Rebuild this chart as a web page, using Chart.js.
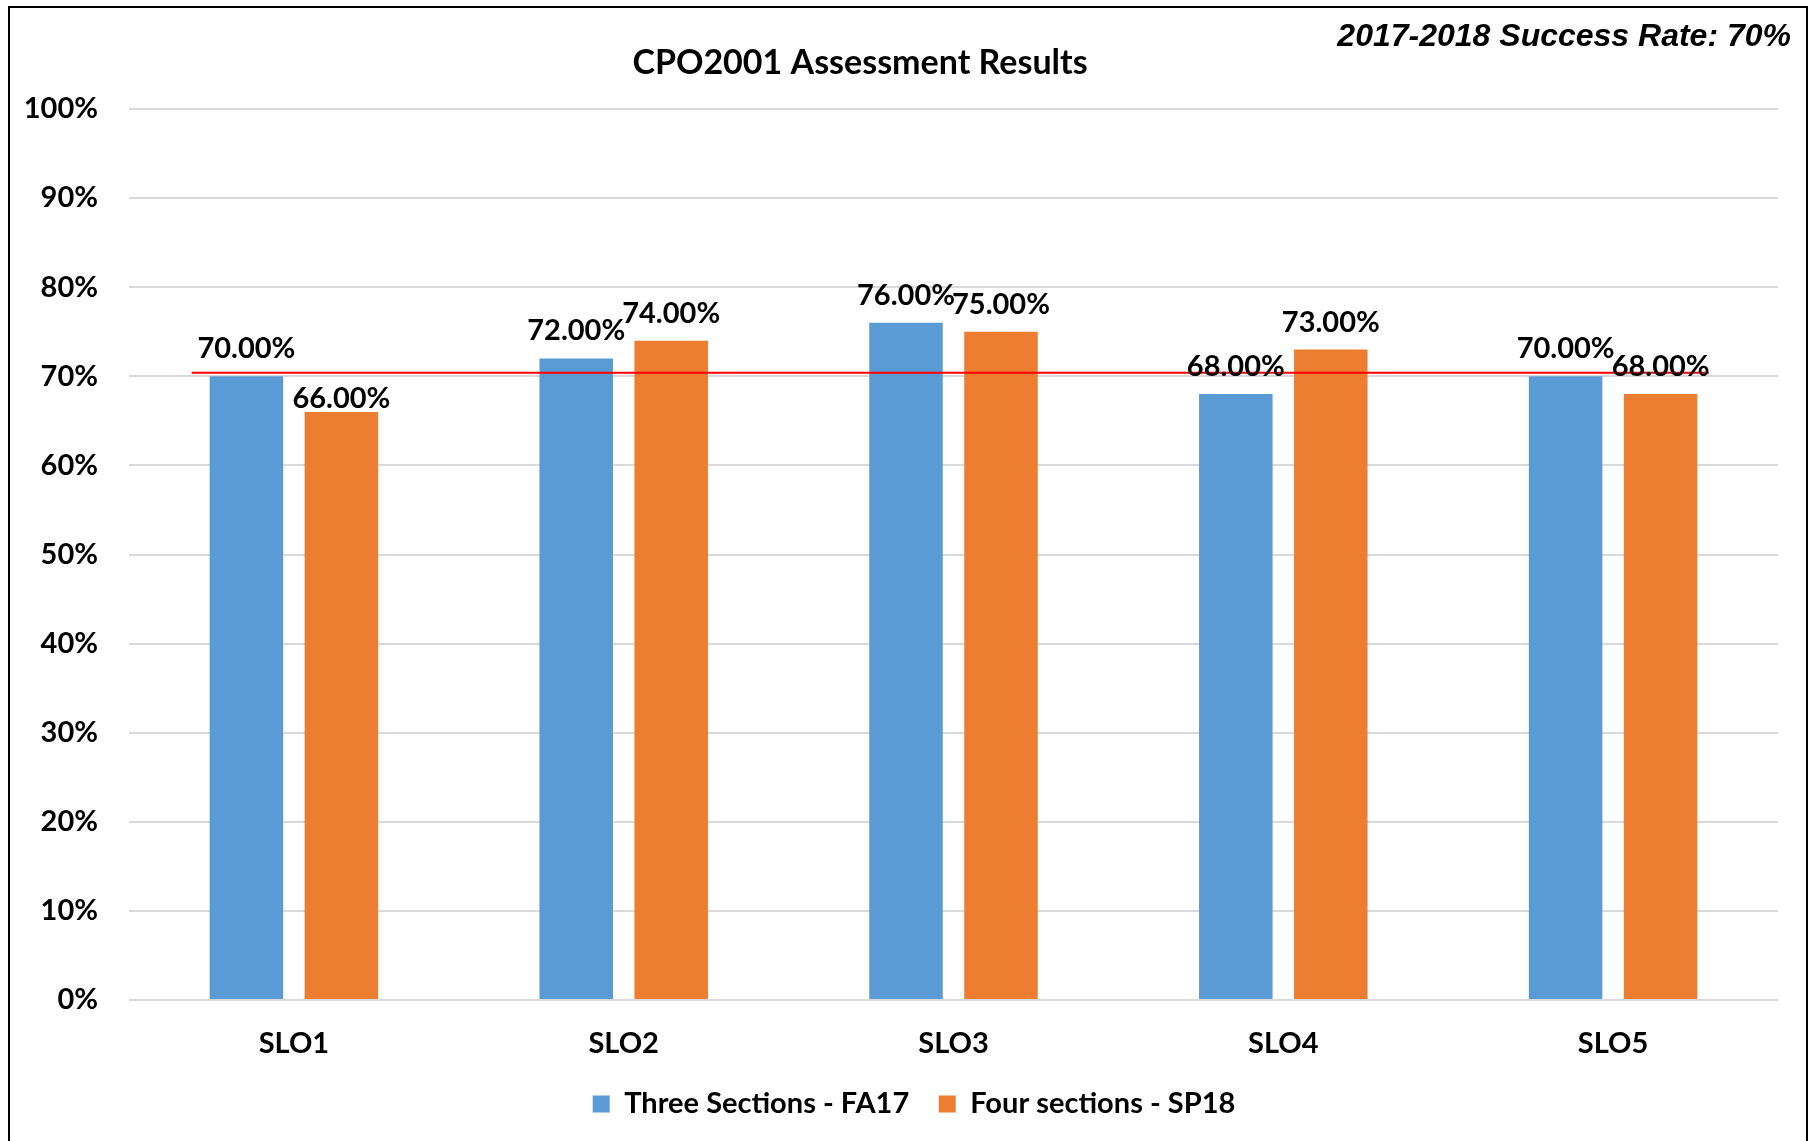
<!DOCTYPE html>
<html><head><meta charset="utf-8">
<script src="https://cdn.jsdelivr.net/npm/chart.js@4.4.1/dist/chart.umd.min.js"></script>
<style>
html,body{margin:0;padding:0;background:#fff;}
#wrap{position:relative;width:1815px;height:1141px;overflow:hidden;}
#frame{position:absolute;left:8px;top:6px;width:1800px;height:1200px;border:2px solid #000;box-sizing:border-box;pointer-events:none;}
canvas{position:absolute;left:0;top:0;}
</style></head><body>
<div id="wrap"><canvas id="c" width="1815" height="1141"></canvas><div id="frame"></div></div>
<script>
const categories = ['SLO1', 'SLO2', 'SLO3', 'SLO4', 'SLO5'];
const seriesNames = ['Three Sections - FA17', 'Four sections - SP18'];
const fa17Values = [70, 72, 76, 68, 70];
const sp18Values = [66, 74, 75, 73, 68];
const successRateLine = 70.4;
const chartTitle = 'CPO2001 Assessment Results';
const noteText = '2017-2018 Success Rate: 70%';

const FONT = 'Lato';

const decorPlugin = {
  id: 'decor',
  afterDatasetsDraw(chart, args, opts) {
    const ctx = chart.ctx;
    const x = chart.scales.x, y = chart.scales.y;
    const catW = x.getPixelForValue(1) - x.getPixelForValue(0);
    const yy = y.getPixelForValue(successRateLine);
    ctx.save();
    ctx.strokeStyle = '#FF0000';
    ctx.lineWidth = 2;
    ctx.beginPath();
    ctx.moveTo(x.getPixelForValue(0) - 0.31 * catW, yy);
    ctx.lineTo(x.getPixelForValue(categories.length - 1) + 0.29 * catW, yy);
    ctx.stroke();
    ctx.fillStyle = '#000';
    ctx.font = 'bold 29px ' + FONT;
    ctx.textAlign = 'center';
    ctx.textBaseline = 'alphabetic';
    chart.data.datasets.forEach((ds, di) => {
      const meta = chart.getDatasetMeta(di);
      meta.data.forEach((bar, i) => {
        const nudge = (opts.nudge[di + '-' + i] || 0);
        ctx.fillText(ds.data[i].toFixed(2) + '%', bar.x, bar.y - opts.gap + nudge);
      });
    });
    ctx.font = 'bold 34px ' + FONT;
    ctx.textBaseline = 'middle';
    ctx.textAlign = 'center';
    ctx.fillText(chartTitle, 860, 63);
    ctx.font = 'italic bold 32px "Liberation Sans", Arial, sans-serif';
    ctx.textAlign = 'right';
    ctx.fillText(noteText, 1791, 37);
    ctx.restore();
  }
};

new Chart(document.getElementById('c'), {
  type: 'bar',
  data: {
    labels: categories,
    datasets: [
      { label: seriesNames[0], data: fa17Values, backgroundColor: '#5B9BD5', yAxisID: 'y' },
      { label: seriesNames[1], data: sp18Values, backgroundColor: '#ED7D31', yAxisID: 'y' }
    ]
  },
  options: {
    responsive: false,
    animation: false,
    devicePixelRatio: 1,
    categoryPercentage: 0.576,
    barPercentage: 0.774,
    layout: { padding: { left: 15, right: 2, top: 109, bottom: 12.5 } },
    scales: {
      y: {
        position: 'left',
        min: 0, max: 100,
        afterFit(s) { s.width = 114; },
        ticks: { stepSize: 10, padding: 31, color: '#000', font: { family: FONT, weight: 'bold', size: 29 }, callback: v => v + '%' },
        grid: { color: '#D9D9D9', lineWidth: 2, drawTicks: false },
        border: { display: false }
      },
      yRight: {
        position: 'right',
        min: 0, max: 100,
        afterFit(s) { s.width = 35; },
        ticks: { display: false },
        grid: { display: false, drawTicks: false },
        border: { display: false }
      },
      x: {
        afterFit(s) { s.height = 60; },
        ticks: { padding: 26.5, color: '#000', font: { family: FONT, weight: 'bold', size: 29 } },
        grid: { display: false, drawTicks: false },
        border: { display: false }
      }
    },
    plugins: {
      legend: {
        position: 'bottom',
        labels: { color: '#000', boxWidth: 17, boxHeight: 17, padding: 29.5, font: { family: FONT, weight: 'bold', size: 29 } }
      },
      tooltip: { enabled: false },
      decor: { gap: 18, nudge: { '1-0': 14 } }
    }
  },
  plugins: [decorPlugin]
});
</script>
</body></html>
